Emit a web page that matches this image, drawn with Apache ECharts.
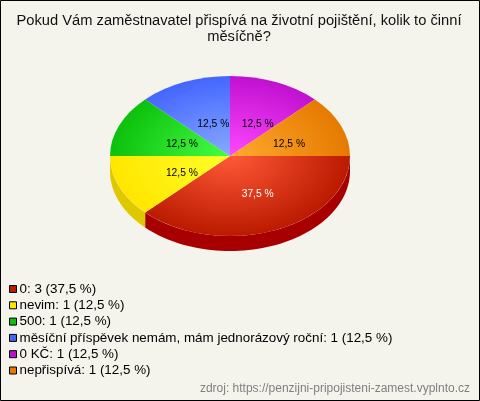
<!DOCTYPE html>
<html><head><meta charset="utf-8">
<style>html,body{margin:0;padding:0;background:#f4f4ec}#c{width:480px;height:401px}</style>
<script src="https://cdn.jsdelivr.net/npm/echarts@6/dist/echarts.min.js"></script>
</head><body><div id="c"></div>
<script>
const categories = ['0','nevim','500','měsíční příspěvek nemám, mám jednorázový roční','0 KČ','nepřispívá'];
const counts = [3,1,1,1,1,1];
const percentLabels = ['37,5 %','12,5 %','12,5 %','12,5 %','12,5 %','12,5 %'];
const labelColors = ['#ffffff','#000000','#000000','#000000','#000000','#000000'];
const edgeColors = ['#bb1a00','#ffe600','#0cc00c','#4466ff','#c010d0','#e67a00'];
const midColors  = ['#ff5a38','#ffff28','#44ff44','#88aaff','#ff48ff','#ffaa30'];
const sideColors = ['#a80000','#e0c800','#0a9a0a','#3350cc','#9a0ca8','#b86000'];
const legendColors = ['#b81c00','#ffe600','#0fbf0f','#4466f0','#c010d0','#e87800'];
const titleText = 'Pokud Vám zaměstnavatel přispívá na životní pojištění, kolik to činní\nměsíčně?';
const sourceText = 'zdroj: https://penzijni-pripojisteni-zamest.vyplnto.cz';

const cx=230, cy=156, rx=120, ry=80, depth=15;
const total = counts.reduce((a,b)=>a+b,0);
const legendNames = categories.map((c,i)=>c+': '+counts[i]+' ('+percentLabels[i]+')');

function makeSeries(i){
  const before = counts.slice(0,i).reduce((a,b)=>a+b,0);
  return {
    type:'custom', name:legendNames[i], coordinateSystem:'none',
    itemStyle:{color:legendColors[i]},
    data:[[counts[i],before]],
    animation:false, silent:true,
    renderItem:function(params,api){
      const a0 = api.value(1)/total*2*Math.PI;
      const a1 = (api.value(1)+api.value(0))/total*2*Math.PI;
      const children=[];
      const sEnd=Math.min(a1,Math.PI);
      if(a0<Math.PI){
        const pts=[];
        for(let k=0;k<=60;k++){const t=a0+(sEnd-a0)*k/60;pts.push([cx+rx*Math.cos(t),cy+ry*Math.sin(t)]);}
        for(let k=60;k>=0;k--){const t=a0+(sEnd-a0)*k/60;pts.push([cx+rx*Math.cos(t),cy+depth+ry*Math.sin(t)]);}
        children.push({type:'polygon',shape:{points:pts},style:{fill:sideColors[i]}});
      }
      children.push({type:'group',x:cx,y:cy,scaleY:ry/rx,children:[{
        type:'sector',
        shape:{cx:0,cy:0,r0:0,r:rx,startAngle:a0,endAngle:a1,clockwise:true},
        style:{fill:{type:'radial',x:0,y:0,r:rx,global:true,colorStops:[{offset:0,color:midColors[i]},{offset:1,color:edgeColors[i]}]}}
      }]});
      const m=(a0+a1)/2;
      children.push({type:'text',x:235.5+58*Math.cos(m),y:159+38*Math.sin(m),
        style:{text:percentLabels[i],fill:labelColors[i],font:'10.3px "Liberation Sans"',align:'center',verticalAlign:'middle'}});
      return {type:'group',children};
    }
  };
}
const chart=echarts.init(document.getElementById('c'),null,{renderer:'canvas',width:480,height:401});
chart.setOption({
  animation:false,
  backgroundColor:'#f4f4ec',
  title:[
    {text:titleText,left:234,top:7.5,textAlign:'center',textStyle:{fontFamily:'Liberation Sans',fontSize:14.7,fontWeight:'normal',color:'#111',lineHeight:16}},
    {text:sourceText,right:10,top:383,padding:0,textStyle:{fontFamily:'Liberation Sans',fontSize:12,fontWeight:'normal',color:'#808080'}}
  ],
  legend:{
    orient:'vertical',left:9,top:282,padding:0,itemWidth:7,itemHeight:7,itemGap:2.3,
    data:legendNames.map(n=>({name:n,icon:'rect'})),
    itemStyle:{borderColor:'#000',borderWidth:1},
    textStyle:{fontFamily:'Liberation Sans',fontSize:13.4,color:'#000',padding:[0,0,0,-2],lineHeight:14},
    selectedMode:false
  },
  graphic:[{type:'rect',z:100,silent:true,shape:{x:0.5,y:0.5,width:479,height:400},style:{fill:null,stroke:'#000',lineWidth:1}}],
  series:categories.map((c,i)=>makeSeries(i))
});
</script></body></html>
